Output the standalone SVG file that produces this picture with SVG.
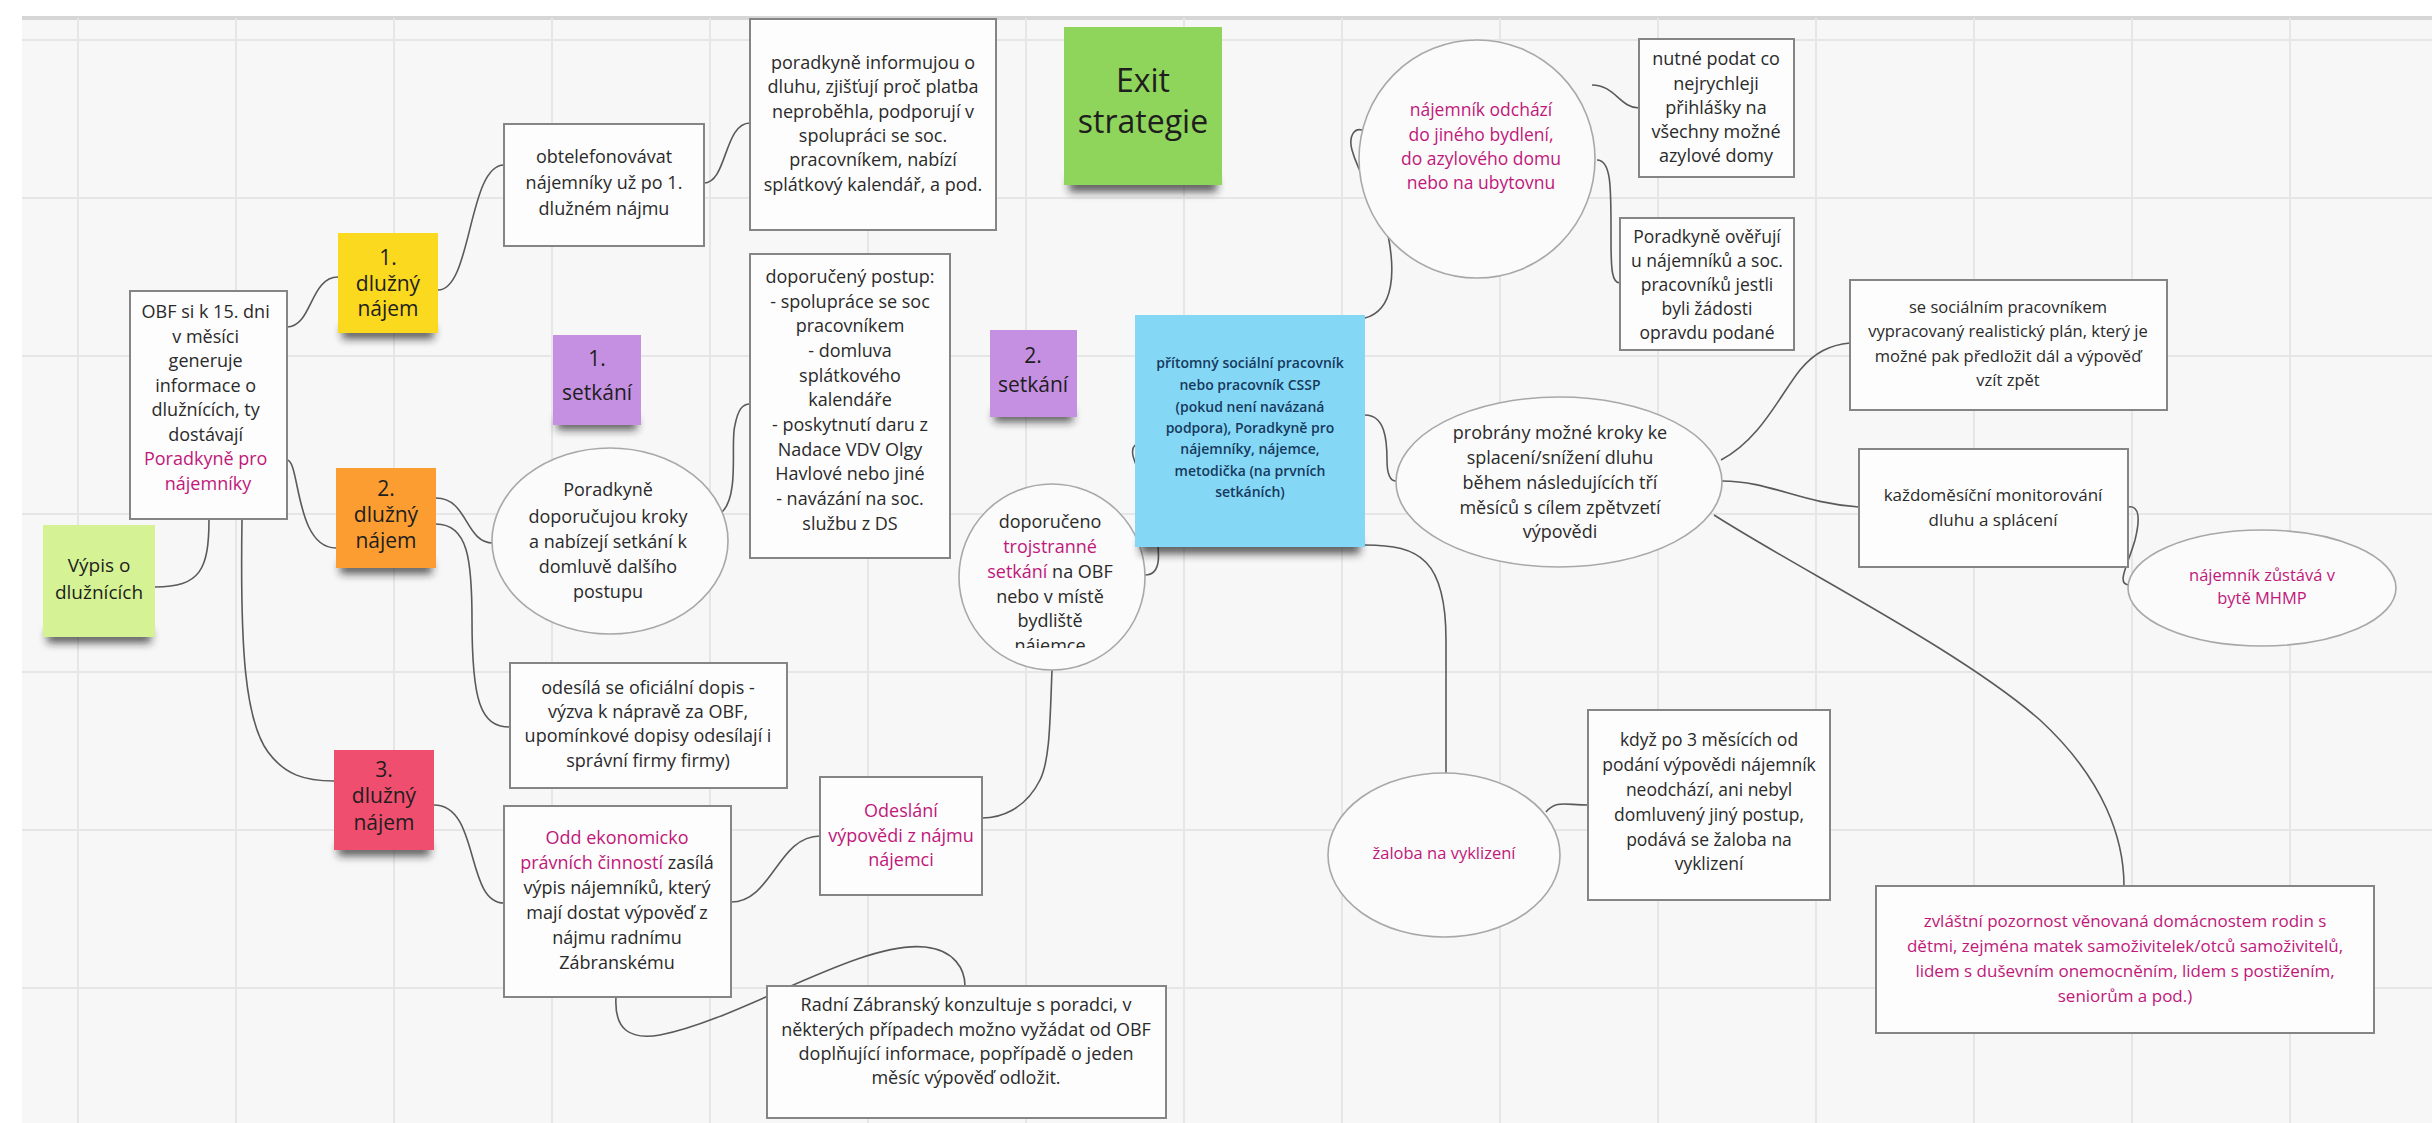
<svg xmlns="http://www.w3.org/2000/svg" width="2432" height="1123" viewBox="0 0 2432 1123">
<style>
.t{font-family:"Open Sans","Noto Sans","DejaVu Sans",sans-serif;font-size:18px;fill:#2a2a2a;text-anchor:middle}
.m{fill:#c0187a}
.box{fill:#fdfdfd;stroke:#858585;stroke-width:2}
.ell{fill:#fbfbfb;stroke:#a8a8a8;stroke-width:1.6}
.note{stroke:none}
.st{font-size:21px;fill:#1e1e1e}
.c{fill:none;stroke:#5a5a5a;stroke-width:1.6}
.g{stroke:#e6e6e6;stroke-width:2}
.shd{fill:#1f1f1f;opacity:.7}
</style>
<defs>
<filter id="blur" x="-30%" y="-100%" width="160%" height="300%"><feGaussianBlur stdDeviation="4"/></filter>
<clipPath id="cl3"><rect x="950" y="480" width="200" height="168"/></clipPath>
</defs>
<rect x="0" y="0" width="2432" height="1123" fill="#ffffff"/>
<rect x="22" y="18" width="2410" height="1105" fill="#f7f7f7"/>
<g id="grid">
<line class="g" x1="22" y1="18" x2="2432" y2="18" style="stroke:#d6d6d6;stroke-width:4"/>
<line class="g" x1="22" y1="40" x2="2432" y2="40"/>
<line class="g" x1="22" y1="198" x2="2432" y2="198"/>
<line class="g" x1="22" y1="356" x2="2432" y2="356"/>
<line class="g" x1="22" y1="514" x2="2432" y2="514"/>
<line class="g" x1="22" y1="672" x2="2432" y2="672"/>
<line class="g" x1="22" y1="830" x2="2432" y2="830"/>
<line class="g" x1="22" y1="988" x2="2432" y2="988"/>
<line class="g" x1="78" y1="18" x2="78" y2="1123"/>
<line class="g" x1="236" y1="18" x2="236" y2="1123"/>
<line class="g" x1="394" y1="18" x2="394" y2="1123"/>
<line class="g" x1="552" y1="18" x2="552" y2="1123"/>
<line class="g" x1="710" y1="18" x2="710" y2="1123"/>
<line class="g" x1="868" y1="18" x2="868" y2="1123"/>
<line class="g" x1="1026" y1="18" x2="1026" y2="1123"/>
<line class="g" x1="1184" y1="18" x2="1184" y2="1123"/>
<line class="g" x1="1342" y1="18" x2="1342" y2="1123"/>
<line class="g" x1="1500" y1="18" x2="1500" y2="1123"/>
<line class="g" x1="1658" y1="18" x2="1658" y2="1123"/>
<line class="g" x1="1816" y1="18" x2="1816" y2="1123"/>
<line class="g" x1="1974" y1="18" x2="1974" y2="1123"/>
<line class="g" x1="2132" y1="18" x2="2132" y2="1123"/>
<line class="g" x1="2290" y1="18" x2="2290" y2="1123"/>
</g>

<g id="connectors">
<path class="c" d="M287 327 C312 327 310 277 338 277"/>
<path class="c" d="M438 290 C472 290 468 165 504 165"/>
<path class="c" d="M704 183 C727 183 724 123 750 123"/>
<path class="c" d="M287 460 C300 460 295 548 336 548"/>
<path class="c" d="M209 519 C209 570 200 587 155 587"/>
<path class="c" d="M242 519 C240 650 245 720 268 752 C285 775 305 781 334 781"/>
<path class="c" d="M436 498 C468 498 465 543 493 543"/>
<path class="c" d="M436 524 C468 524 472 560 472 620 C472 700 480 727 510 727"/>
<path class="c" d="M434 805 C480 805 465 903 504 903"/>
<path class="c" d="M722 512 C740 495 730 440 735 425 C738 410 742 404 750 404"/>
<path class="c" d="M731 902 C772 902 778 836 820 836"/>
<path class="c" d="M1052 670 C1050 720 1050 760 1040 780 C1025 810 1000 818 982 818"/>
<path class="c" d="M616 997 C614 1030 630 1040 660 1035 C740 1020 860 940 925 947 C955 950 965 970 965 986"/>
<path class="c" d="M1145 575 C1162 575 1160 555 1155 520 C1148 480 1125 455 1135 445"/>
<path class="c" d="M1365 415 C1385 415 1387 440 1387 460 C1387 475 1390 481 1396 481"/>
<path class="c" d="M1365 318 C1395 310 1395 270 1388 235 C1380 200 1360 180 1352 150 C1348 135 1355 128 1362 130"/>
<path class="c" d="M1365 545 C1420 545 1446 560 1446 640 L1446 773"/>
<path class="c" d="M1592 85 C1615 85 1620 108 1639 108"/>
<path class="c" d="M1597 160 C1612 160 1611 190 1611 240 C1611 270 1612 283 1620 283"/>
<path class="c" d="M1721 460 C1760 440 1780 395 1800 370 C1815 352 1830 345 1850 343"/>
<path class="c" d="M1722 481 C1770 481 1800 503 1859 507"/>
<path class="c" d="M1714 515 C1800 570 1960 650 2040 720 C2105 780 2124 840 2124 886"/>
<path class="c" d="M2128 507 C2140 505 2140 520 2135 540 C2128 565 2115 585 2130 585"/>
<path class="c" d="M1546 812 C1556 800 1565 805 1588 805"/>
</g>

<g id="n-obf">
<rect class="box" x="130" y="291" width="157" height="228"/>
<text class="t" x="208">
<tspan x="208" y="318">OBF si k 15. dni</tspan>
<tspan x="208" y="342.5">v měsíci</tspan>
<tspan x="208" y="367">generuje</tspan>
<tspan x="208" y="391.5">informace o</tspan>
<tspan x="208" y="416">dlužnících, ty</tspan>
<tspan x="208" y="440.5">dostávají</tspan>
<tspan x="208" y="465" class="m">Poradkyně pro</tspan>
<tspan x="208" y="489.5" class="m">nájemníky</tspan>
</text>
</g>

<g id="n-vypis">
<rect class="shd" x="47" y="630" width="104" height="13" filter="url(#blur)"/>
<rect class="note" x="43" y="525" width="112" height="112" fill="#d5f394"/>
<text class="t" style="font-size:19px;fill:#1e1e1e"><tspan x="99" y="572">Výpis o</tspan><tspan x="99" y="599">dlužnících</tspan></text>
</g>

<g id="n-dluh1">
<rect class="shd" x="342" y="326" width="92" height="13" filter="url(#blur)"/>
<rect class="note" x="338" y="233" width="100" height="100" fill="#fad91f"/>
<text class="t st"><tspan x="388" y="265">1.</tspan><tspan x="388" y="291">dlužný</tspan><tspan x="388" y="316">nájem</tspan></text>
</g>

<g id="n-dluh2">
<rect class="shd" x="340" y="561" width="92" height="13" filter="url(#blur)"/>
<rect class="note" x="336" y="468" width="100" height="100" fill="#fc9d31"/>
<text class="t st"><tspan x="386" y="496">2.</tspan><tspan x="386" y="522">dlužný</tspan><tspan x="386" y="548">nájem</tspan></text>
</g>

<g id="n-dluh3">
<rect class="shd" x="338" y="843" width="92" height="13" filter="url(#blur)"/>
<rect class="note" x="334" y="750" width="100" height="100" fill="#ef4e6f"/>
<text class="t st"><tspan x="384" y="777">3.</tspan><tspan x="384" y="803">dlužný</tspan><tspan x="384" y="830">nájem</tspan></text>
</g>

<g id="n-obtel">
<rect class="box" x="504" y="124" width="200" height="122"/>
<text class="t"><tspan x="604" y="163">obtelefonovávat</tspan><tspan x="604" y="189">nájemníky už po 1.</tspan><tspan x="604" y="215">dlužném nájmu</tspan></text>
</g>

<g id="n-informujou">
<rect class="box" x="750" y="19" width="246" height="211"/>
<text class="t"><tspan x="873" y="69">poradkyně informujou o</tspan><tspan x="873" y="93">dluhu, zjišťují proč platba</tspan><tspan x="873" y="118">neproběhla, podporují v</tspan><tspan x="873" y="142">spolupráci se soc.</tspan><tspan x="873" y="166">pracovníkem, nabízí</tspan><tspan x="873" y="191">splátkový kalendář, a pod.</tspan></text>
</g>

<g id="n-exit">
<rect class="shd" x="1069" y="178" width="148" height="14" filter="url(#blur)"/>
<rect class="note" x="1064" y="27" width="158" height="158" fill="#8fd45b"/>
<text class="t" style="font-size:32px;fill:#1e1e1e"><tspan x="1143" y="92">Exit</tspan><tspan x="1143" y="133">strategie</tspan></text>
</g>

<g id="n-setkani1">
<rect class="shd" x="557" y="418" width="80" height="12" filter="url(#blur)"/>
<rect class="note" x="553" y="335" width="88" height="90" fill="#c590e2"/>
<text class="t st"><tspan x="597" y="366">1.</tspan><tspan x="597" y="400">setkání</tspan></text>
</g>

<g id="n-setkani2">
<rect class="shd" x="994" y="410" width="79" height="12" filter="url(#blur)"/>
<rect class="note" x="990" y="330" width="87" height="87" fill="#c590e2"/>
<text class="t st"><tspan x="1033" y="363">2.</tspan><tspan x="1033" y="392">setkání</tspan></text>
</g>

<g id="n-doporuceny">
<rect class="box" x="750" y="254" width="200" height="304"/>
<text class="t"><tspan x="850" y="283">doporučený postup:</tspan><tspan x="850" y="308">- spolupráce se soc</tspan><tspan x="850" y="332">pracovníkem</tspan><tspan x="850" y="357">- domluva</tspan><tspan x="850" y="382">splátkového</tspan><tspan x="850" y="406">kalendáře</tspan><tspan x="850" y="431">- poskytnutí daru z</tspan><tspan x="850" y="456">Nadace VDV Olgy</tspan><tspan x="850" y="480">Havlové nebo jiné</tspan><tspan x="850" y="505">- navázání na soc.</tspan><tspan x="850" y="530">službu z DS</tspan></text>
</g>

<g id="n-poradkyne-kroky">
<ellipse class="ell" cx="610" cy="541" rx="118" ry="93"/>
<text class="t"><tspan x="608" y="496">Poradkyně</tspan><tspan x="608" y="523">doporučujou kroky</tspan><tspan x="608" y="548">a nabízejí setkání k</tspan><tspan x="608" y="573">domluvě dalšího</tspan><tspan x="608" y="598">postupu</tspan></text>
</g>

<g id="n-odesila">
<rect class="box" x="510" y="663" width="277" height="125"/>
<text class="t"><tspan x="648" y="694">odesílá se oficiální dopis -</tspan><tspan x="648" y="718">výzva k nápravě za OBF,</tspan><tspan x="648" y="742">upomínkové dopisy odesílají i</tspan><tspan x="648" y="767">správní firmy firmy)</tspan></text>
</g>

<g id="n-odd">
<rect class="box" x="504" y="806" width="227" height="191"/>
<text class="t"><tspan x="617" y="844" class="m">Odd ekonomicko</tspan><tspan x="617" y="869"><tspan class="m">právních činností</tspan> zasílá</tspan><tspan x="617" y="894">výpis nájemníků, který</tspan><tspan x="617" y="919">mají dostat výpověď z</tspan><tspan x="617" y="944">nájmu radnímu</tspan><tspan x="617" y="969">Zábranskému</tspan></text>
</g>

<g id="n-odeslani">
<rect class="box" x="820" y="777" width="162" height="118"/>
<text class="t m"><tspan x="901" y="817">Odeslání</tspan><tspan x="901" y="842">výpovědi z nájmu</tspan><tspan x="901" y="866">nájemci</tspan></text>
</g>

<g id="n-radni">
<rect class="box" x="767" y="986" width="399" height="132"/>
<text class="t"><tspan x="966" y="1011">Radní Zábranský konzultuje s poradci, v</tspan><tspan x="966" y="1036">některých případech možno vyžádat od OBF</tspan><tspan x="966" y="1060">doplňující informace, popřípadě o jeden</tspan><tspan x="966" y="1084">měsíc výpověď odložit.</tspan></text>
</g>

<g id="n-trojstranne">
<ellipse class="ell" cx="1052" cy="577" rx="93" ry="93"/>
<text class="t" clip-path="url(#cl3)"><tspan x="1050" y="528">doporučeno</tspan><tspan x="1050" y="553" class="m">trojstranné</tspan><tspan x="1050" y="578"><tspan class="m">setkání</tspan> na OBF</tspan><tspan x="1050" y="603">nebo v místě</tspan><tspan x="1050" y="627">bydliště</tspan><tspan x="1050" y="652">nájemce</tspan></text>
</g>

<g id="n-socialni">
<rect class="shd" x="1140" y="539" width="220" height="15" filter="url(#blur)"/>
<rect class="note" x="1135" y="315" width="230" height="232" fill="#84d8f6"/>
<text class="t" style="font-size:14px;font-weight:600;fill:#17395c"><tspan x="1250" y="368">přítomný sociální pracovník</tspan><tspan x="1250" y="390">nebo pracovník CSSP</tspan><tspan x="1250" y="412">(pokud není navázaná</tspan><tspan x="1250" y="433">podpora), Poradkyně pro</tspan><tspan x="1250" y="454">nájemníky, nájemce,</tspan><tspan x="1250" y="476">metodička (na prvních</tspan><tspan x="1250" y="497">setkáních)</tspan></text>
</g>

<g id="n-odchazi">
<ellipse class="ell" cx="1477" cy="159" rx="118" ry="119"/>
<text class="t m" style="font-size:17.5px"><tspan x="1481" y="116">nájemník odchází</tspan><tspan x="1481" y="141">do jiného bydlení,</tspan><tspan x="1481" y="165">do azylového domu</tspan><tspan x="1481" y="189">nebo na ubytovnu</tspan></text>
</g>

<g id="n-nutne">
<rect class="box" x="1639" y="39" width="155" height="138"/>
<text class="t"><tspan x="1716" y="65">nutné podat co</tspan><tspan x="1716" y="90">nejrychleji</tspan><tspan x="1716" y="114">přihlášky na</tspan><tspan x="1716" y="138">všechny možné</tspan><tspan x="1716" y="162">azylové domy</tspan></text>
</g>

<g id="n-overuji">
<rect class="box" x="1620" y="218" width="174" height="132"/>
<text class="t" style="font-size:17.5px"><tspan x="1707" y="243">Poradkyně ověřují</tspan><tspan x="1707" y="267">u nájemníků a soc.</tspan><tspan x="1707" y="291">pracovníků jestli</tspan><tspan x="1707" y="315">byli žádosti</tspan><tspan x="1707" y="339">opravdu podané</tspan></text>
</g>

<g id="n-probrany">
<ellipse class="ell" cx="1559" cy="482" rx="163" ry="85"/>
<text class="t"><tspan x="1560" y="439">probrány možné kroky ke</tspan><tspan x="1560" y="464">splacení/snížení dluhu</tspan><tspan x="1560" y="489">během následujících tří</tspan><tspan x="1560" y="514">měsíců s cílem zpětvzetí</tspan><tspan x="1560" y="538">výpovědi</tspan></text>
</g>

<g id="n-plan">
<rect class="box" x="1850" y="280" width="317" height="130"/>
<text class="t" style="font-size:16.5px"><tspan x="2008" y="313">se sociálním pracovníkem</tspan><tspan x="2008" y="337">vypracovaný realistický plán, který je</tspan><tspan x="2008" y="362">možné pak předložit dál a výpověď</tspan><tspan x="2008" y="386">vzít zpět</tspan></text>
</g>

<g id="n-monitorovani">
<rect class="box" x="1859" y="449" width="269" height="118"/>
<text class="t" style="font-size:17px"><tspan x="1993" y="501">každoměsíční monitorování</tspan><tspan x="1993" y="526">dluhu a splácení</tspan></text>
</g>

<g id="n-zustava">
<ellipse class="ell" cx="2262" cy="588" rx="134" ry="58"/>
<text class="t m" style="font-size:16.5px"><tspan x="2262" y="581">nájemník zůstává v</tspan><tspan x="2262" y="604">bytě MHMP</tspan></text>
</g>

<g id="n-kdyz">
<rect class="box" x="1588" y="710" width="242" height="190"/>
<text class="t" style="font-size:17.5px"><tspan x="1709" y="746">když po 3 měsících od</tspan><tspan x="1709" y="771">podání výpovědi nájemník</tspan><tspan x="1709" y="796">neodchází, ani nebyl</tspan><tspan x="1709" y="821">domluvený jiný postup,</tspan><tspan x="1709" y="846">podává se žaloba na</tspan><tspan x="1709" y="870">vyklizení</tspan></text>
</g>

<g id="n-zaloba">
<ellipse class="ell" cx="1444" cy="855" rx="116" ry="82"/>
<text class="t m" style="font-size:16.5px"><tspan x="1444" y="859">žaloba na vyklizení</tspan></text>
</g>

<g id="n-zvlastni">
<rect class="box" x="1876" y="886" width="498" height="147"/>
<text class="t m" style="font-size:17px"><tspan x="2125" y="927">zvláštní pozornost věnovaná domácnostem rodin s</tspan><tspan x="2125" y="952">dětmi, zejména matek samoživitelek/otců samoživitelů,</tspan><tspan x="2125" y="977">lidem s duševním onemocněním, lidem s postižením,</tspan><tspan x="2125" y="1002">seniorům a pod.)</tspan></text>
</g>
</svg>
